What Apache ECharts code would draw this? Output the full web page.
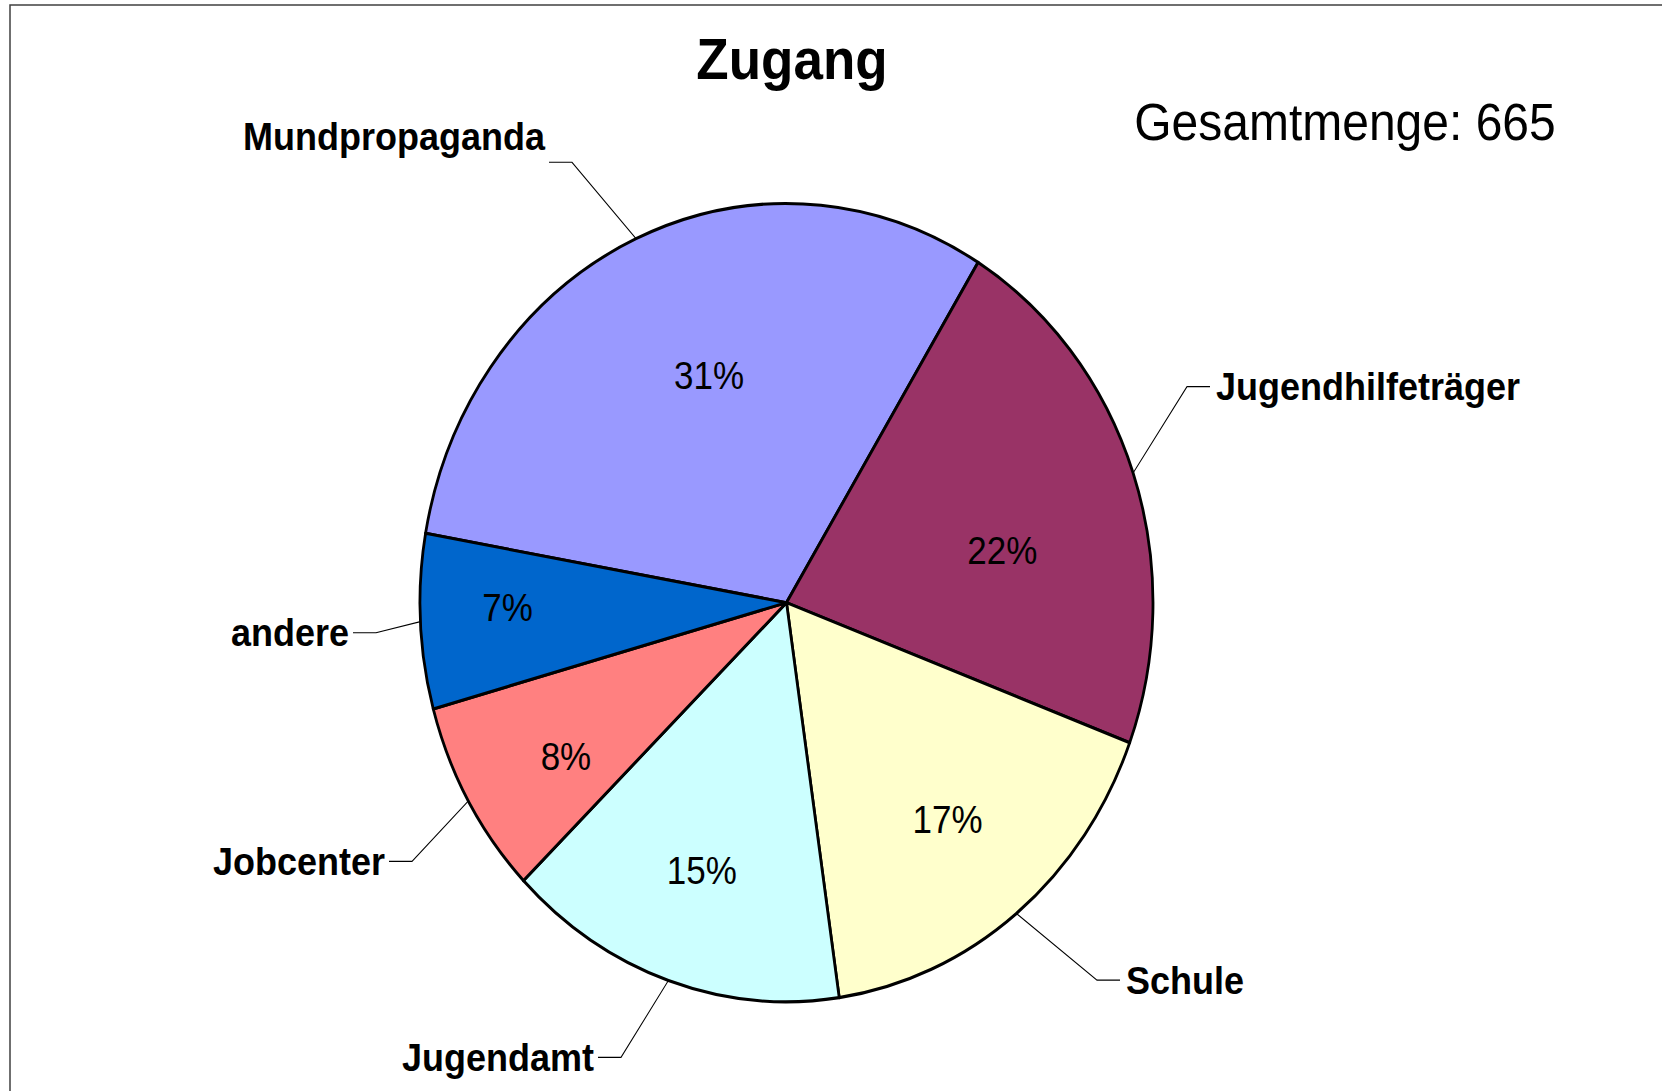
<!DOCTYPE html>
<html>
<head>
<meta charset="utf-8">
<title>Zugang</title>
<script src="https://cdn.jsdelivr.net/npm/echarts@6/dist/echarts.min.js"></script>
<style>
  html, body { margin: 0; padding: 0; background: #fff; overflow: hidden; }
  #wrap { width: 1662px; height: 1091px; overflow: hidden; position: relative; }
  /* das Original ist senkrecht gestreckt, daher Ellipse statt Kreis */
  #chart { width: 1662px; height: 1002px; transform: scaleY(1.089); transform-origin: 0 0; }
</style>
</head>
<body>
<div id="wrap"><div id="chart"></div></div>
<script>
// Zugang nach Quelle, Gesamtmenge 665
const categories = ['Mundpropaganda', 'Jugendhilfeträger', 'Schule', 'Jugendamt', 'Jobcenter', 'andere'];
const counts = [206, 146, 113, 100, 53, 47];
const colors = ['#9999FF', '#993366', '#FFFFCC', '#CCFFFF', '#FF8080', '#0066CC'];
const total = 665;

// Lage der Beschriftungen (ungestreckte Koordinaten)
const labelXY = [[545, 125], [1216, 355], [1126, 900], [594, 971], [385, 791], [349, 581]];
const lineEnd = [[549, 149], [1210, 355], [1120, 900], [598, 971], [389, 791], [353, 581]];
// Verschiebung der Prozentwerte gegenüber der Standardlage
const pctShift = [[24, 17], [-18, 33], [6, 7], [-5, 12], [-6, 19], [-32, -7]];

const font = "'Liberation Sans', Arial, sans-serif";
const center = [786.5, 553.4];
const radius = 366.5;

let pieData = categories.map(function (name, i) {
  return { name: name, value: counts[i], itemStyle: { color: colors[i] } };
});

let myChart = echarts.init(document.getElementById('chart'), null, { renderer: 'svg' });

let option = {
  animation: false,
  backgroundColor: '#fff',
  graphic: [
    {
      type: 'rect', z: 0, silent: true,
      shape: { x: 10, y: 4.6, width: 3000, height: 3000 },
      style: { fill: 'none', stroke: '#404040', lineWidth: 1.5 }
    },
    {
      type: 'text', z: 10,
      style: { text: 'Zugang', x: 792, y: 54, align: 'center', verticalAlign: 'middle',
        font: 'bold 53px ' + font, fill: '#000' }
    },
    {
      type: 'text', z: 10,
      style: { text: 'Gesamtmenge: ' + total, x: 1345, y: 112, align: 'center', verticalAlign: 'middle',
        font: '48px ' + font, fill: '#000' }
    }
  ],
  series: [
    {
      // sichtbare Torte mit Namen außen
      type: 'pie',
      center: center,
      radius: radius,
      startAngle: 170,
      clockwise: true,
      avoidLabelOverlap: false,
      silent: true,
      data: pieData,
      itemStyle: { borderColor: '#000', borderWidth: 2.8 },
      label: {
        show: true, position: 'outside', formatter: '{b}',
        fontFamily: font, fontWeight: 'bold', fontSize: 36, color: '#000'
      },
      labelLine: { show: true, length: 20, length2: 20, lineStyle: { color: '#000', width: 1 } },
      labelLayout: function (params) {
        let i = params.dataIndex;
        let p0 = params.labelLinePoints ? params.labelLinePoints[0] : lineEnd[i];
        let onLeft = labelXY[i][0] < center[0];
        let end = lineEnd[i];
        let elbow = [end[0] + (onLeft ? 23 : -23), end[1]];
        return {
          x: labelXY[i][0],
          y: labelXY[i][1],
          align: onLeft ? 'right' : 'left',
          verticalAlign: 'middle',
          labelLinePoints: [p0, elbow, end]
        };
      }
    },
    {
      // unsichtbarer Ring nur für die Prozentwerte
      type: 'pie',
      center: center,
      radius: [122, radius],
      startAngle: 170,
      clockwise: true,
      silent: true,
      avoidLabelOverlap: false,
      data: categories.map(function (name, i) { return { name: name, value: counts[i] }; }),
      itemStyle: { color: 'rgba(0,0,0,0)', borderWidth: 0 },
      label: {
        show: true, position: 'inside',
        formatter: function (p) { return Math.round(p.percent) + '%'; },
        fontFamily: font, fontSize: 35, color: '#000'
      },
      labelLine: { show: false },
      labelLayout: function (params) {
        let s = pctShift[params.dataIndex];
        return { dx: s[0], dy: s[1] };
      }
    }
  ]
};

myChart.setOption(option);
</script>
</body>
</html>
